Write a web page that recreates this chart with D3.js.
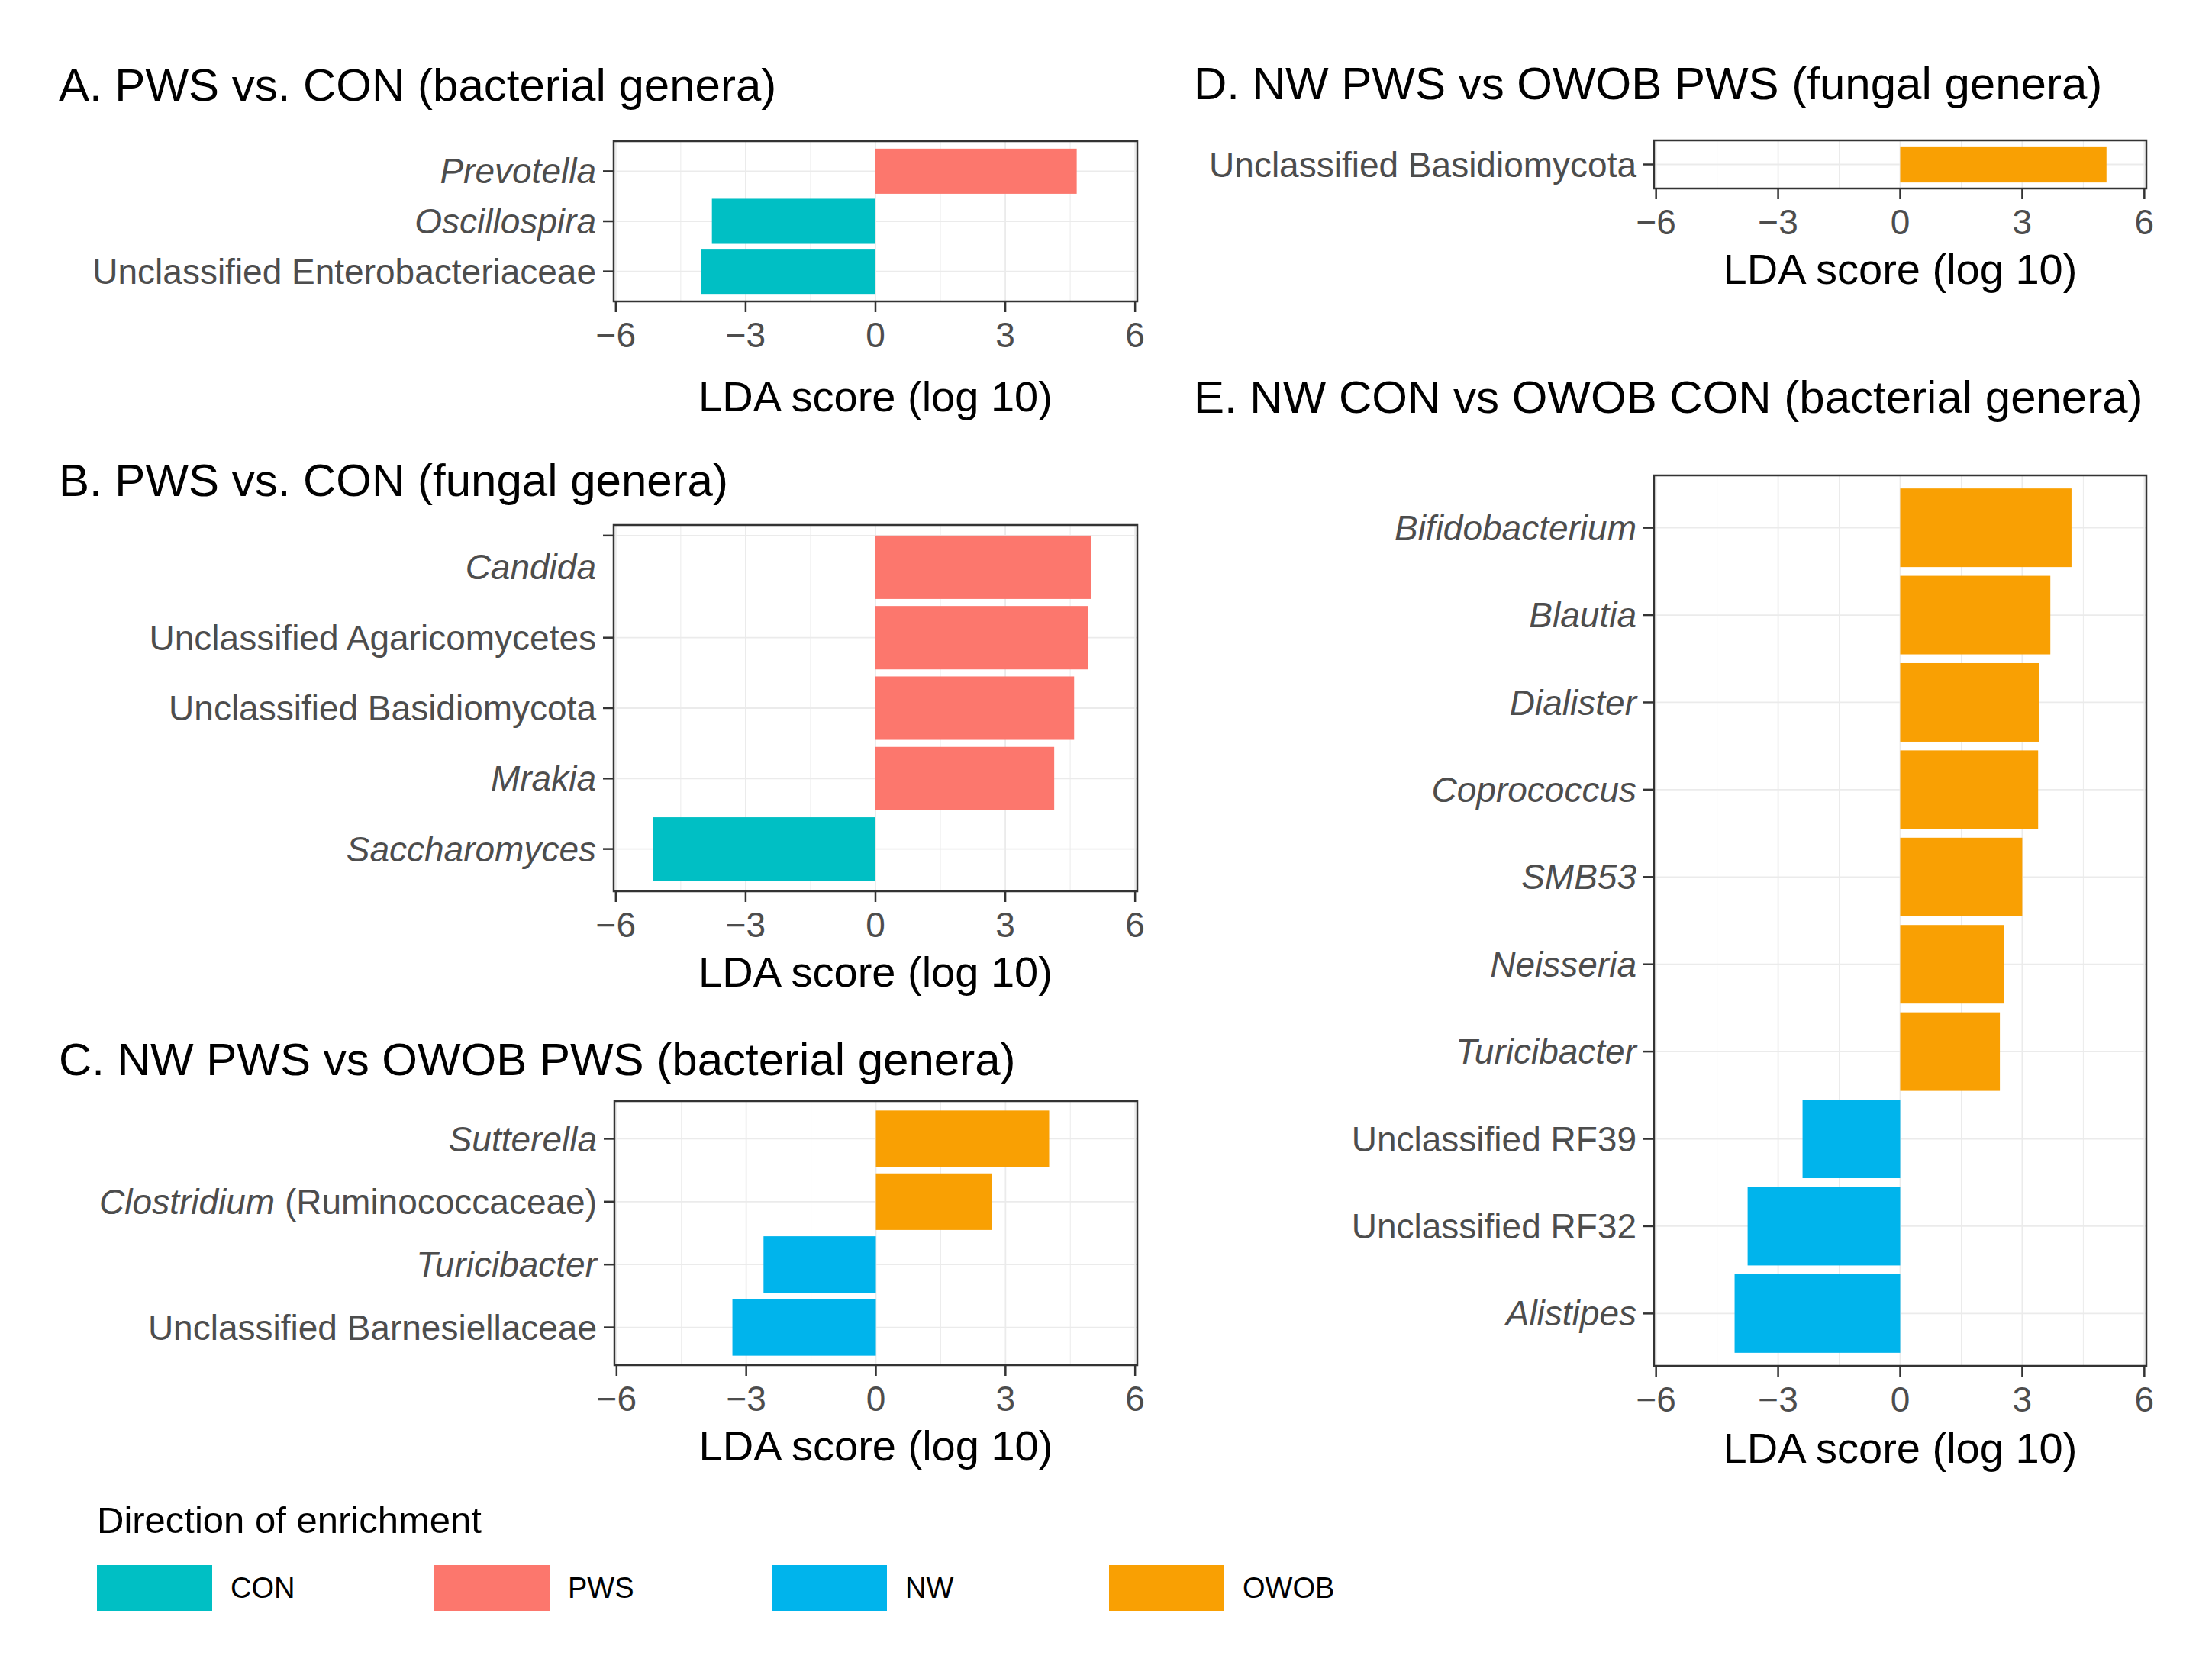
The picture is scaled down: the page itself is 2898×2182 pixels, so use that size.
<!DOCTYPE html>
<html>
<head>
<meta charset="utf-8">
<script src="https://cdn.jsdelivr.net/npm/d3@7"></script>
<style>
  body { margin: 0; background: #ffffff; }
  svg { display: block; }
</style>
</head>
<body>
<script>
// LDA scores, top row to bottom row in each panel

// A. PWS vs. CON (bacterial genera)
const generaA = ["Prevotella", "Oscillospira", "Unclassified Enterobacteriaceae"];
const scoresA = [4.65, -3.78, -4.03];
const groupsA = ["PWS", "CON", "CON"];

// B. PWS vs. CON (fungal genera)
const generaB = ["Candida", "Unclassified Agaricomycetes", "Unclassified Basidiomycota", "Mrakia", "Saccharomyces"];
const scoresB = [4.98, 4.91, 4.59, 4.13, -5.14];
const groupsB = ["PWS", "PWS", "PWS", "PWS", "CON"];

// C. NW PWS vs OWOB PWS (bacterial genera)
const generaC = ["Sutterella", "Clostridium (Ruminococcaceae)", "Turicibacter", "Unclassified Barnesiellaceae"];
const scoresC = [4.01, 2.68, -2.6, -3.32];
const groupsC = ["OWOB", "OWOB", "NW", "NW"];

// D. NW PWS vs OWOB PWS (fungal genera)
const generaD = ["Unclassified Basidiomycota"];
const scoresD = [5.07];
const groupsD = ["OWOB"];

// E. NW CON vs OWOB CON (bacterial genera)
const generaE = ["Bifidobacterium", "Blautia", "Dialister", "Coprococcus", "SMB53", "Neisseria",
  "Turicibacter", "Unclassified RF39", "Unclassified RF32", "Alistipes"];
const scoresE = [4.21, 3.69, 3.42, 3.39, 3.0, 2.55, 2.45, -2.4, -3.75, -4.07];
const groupsE = ["OWOB", "OWOB", "OWOB", "OWOB", "OWOB", "OWOB", "OWOB", "NW", "NW", "NW"];

const xTicks = [-6, -3, 0, 3, 6];
const xMinor = [-4.5, -1.5, 1.5, 4.5];

const groupNames = ["CON", "PWS", "NW", "OWOB"];
const groupColors = ["#00BFC4", "#FC776D", "#00B4EC", "#F9A003"];
const color = d3.scaleOrdinal().domain(groupNames).range(groupColors);

const W = 2898;
const H = 2182;
const FONT = "'Liberation Sans', Arial, Helvetica, sans-serif";

const svg = d3.select("body").append("svg").attr("width", W).attr("height", H);
svg.append("rect").attr("width", W).attr("height", H).attr("fill", "#ffffff");

// one ggplot-ish panel (theme_bw)
function drawPanel(p) {
  const g = svg.append("g");
  const x = d3.scaleLinear().domain([-6.05, 6.05]).range([p.x0, p.x1]);
  const y = d3.scaleBand().domain(p.genera).range([p.y0, p.y1])
    .paddingInner(0.1).paddingOuter(0.15);

  // where the tick / gridline sits for each row
  const rowY = (d, i) => (p.firstTickAtTop && i === 0) ? y(d) : y(d) + y.bandwidth() / 2;

  // title
  g.append("text")
    .attr("x", p.tx).attr("y", p.ty)
    .attr("font-family", FONT).attr("font-size", 60)
    .attr("fill", "#000000")
    .text(p.title);

  // grid
  g.selectAll(".minor").data(xMinor).enter().append("line")
    .attr("x1", d => x(d)).attr("x2", d => x(d))
    .attr("y1", p.y0).attr("y2", p.y1)
    .attr("stroke", "#EBEBEB").attr("stroke-width", 1);
  g.selectAll(".vmajor").data(xTicks).enter().append("line")
    .attr("x1", d => x(d)).attr("x2", d => x(d))
    .attr("y1", p.y0).attr("y2", p.y1)
    .attr("stroke", "#EBEBEB").attr("stroke-width", 1.8);
  g.selectAll(".hmajor").data(p.genera).enter().append("line")
    .attr("x1", p.x0).attr("x2", p.x1)
    .attr("y1", rowY).attr("y2", rowY)
    .attr("stroke", "#EBEBEB").attr("stroke-width", 1.8);

  // bars
  g.selectAll(".bar").data(p.genera).enter().append("rect")
    .attr("x", (d, i) => Math.min(x(0), x(p.scores[i])))
    .attr("y", d => y(d))
    .attr("width", (d, i) => Math.abs(x(p.scores[i]) - x(0)))
    .attr("height", y.bandwidth())
    .attr("fill", (d, i) => color(p.groups[i]));

  // border
  g.append("rect")
    .attr("x", p.x0).attr("y", p.y0)
    .attr("width", p.x1 - p.x0).attr("height", p.y1 - p.y0)
    .attr("fill", "none").attr("stroke", "#333333").attr("stroke-width", 2.5);

  // x axis
  g.selectAll(".xtick").data(xTicks).enter().append("line")
    .attr("x1", d => x(d)).attr("x2", d => x(d))
    .attr("y1", p.y1).attr("y2", p.y1 + 14)
    .attr("stroke", "#333333").attr("stroke-width", 2.5);
  g.selectAll(".xlab").data(xTicks).enter().append("text")
    .attr("x", d => x(d)).attr("y", p.y1 + 60)
    .attr("text-anchor", "middle")
    .attr("font-family", FONT).attr("font-size", 46)
    .attr("fill", "#4D4D4D")
    .text(d => d < 0 ? "\u2212" + Math.abs(d) : d);
  g.append("text")
    .attr("x", (p.x0 + p.x1) / 2).attr("y", p.y1 + p.axisGap)
    .attr("text-anchor", "middle")
    .attr("font-family", FONT).attr("font-size", 56)
    .attr("fill", "#000000")
    .text("LDA score (log 10)");

  // y axis
  g.selectAll(".ytick").data(p.genera).enter().append("line")
    .attr("x1", p.x0 - 14).attr("x2", p.x0)
    .attr("y1", rowY).attr("y2", rowY)
    .attr("stroke", "#333333").attr("stroke-width", 2.5);

  const labels = g.selectAll(".ylab").data(p.genera).enter().append("text")
    .attr("x", p.x0 - 23)
    .attr("y", d => y(d) + y.bandwidth() / 2)
    .attr("dy", "0.35em")
    .attr("text-anchor", "end")
    .attr("font-family", FONT).attr("font-size", 46)
    .attr("fill", "#4D4D4D");

  // genus names in italics, "Unclassified ..." in roman
  labels.each(function (d) {
    const t = d3.select(this);
    if (d.startsWith("Unclassified")) {
      t.text(d);
      return;
    }
    const cut = d.indexOf(" ");
    const genus = cut < 0 ? d : d.slice(0, cut);
    t.append("tspan").attr("font-style", "italic").text(genus);
    if (cut >= 0) t.append("tspan").text(d.slice(cut));
  });
}

drawPanel({
  title: "A. PWS vs. CON (bacterial genera)", tx: 77, ty: 132,
  genera: generaA, scores: scoresA, groups: groupsA,
  x0: 804, x1: 1490, y0: 185, y1: 395, axisGap: 144
});

drawPanel({
  title: "B. PWS vs. CON (fungal genera)", tx: 77, ty: 650,
  genera: generaB, scores: scoresB, groups: groupsB,
  x0: 804, x1: 1490, y0: 688, y1: 1168, axisGap: 125,
  firstTickAtTop: true
});

drawPanel({
  title: "C. NW PWS vs OWOB PWS (bacterial genera)", tx: 77, ty: 1409,
  genera: generaC, scores: scoresC, groups: groupsC,
  x0: 805, x1: 1490, y0: 1443, y1: 1789, axisGap: 125
});

drawPanel({
  title: "D. NW PWS vs OWOB PWS (fungal genera)", tx: 1564, ty: 130,
  genera: generaD, scores: scoresD, groups: groupsD,
  x0: 2167, x1: 2812, y0: 184, y1: 247, axisGap: 125
});

drawPanel({
  title: "E. NW CON vs OWOB CON (bacterial genera)", tx: 1564, ty: 541,
  genera: generaE, scores: scoresE, groups: groupsE,
  x0: 2167, x1: 2812, y0: 623, y1: 1790, axisGap: 127
});

// Legend
const legend = svg.append("g");
legend.append("text")
  .attr("x", 127).attr("y", 2009)
  .attr("font-family", FONT).attr("font-size", 49)
  .attr("fill", "#000000")
  .text("Direction of enrichment");

const keyX = d3.scalePoint().domain(groupNames).range([127, 127 + 442 * 3]);

legend.selectAll(".key").data(groupNames).enter().append("rect")
  .attr("x", d => keyX(d)).attr("y", 2051)
  .attr("width", 151).attr("height", 60)
  .attr("fill", d => color(d));

legend.selectAll(".keylab").data(groupNames).enter().append("text")
  .attr("x", d => keyX(d) + 175).attr("y", 2081)
  .attr("dy", "0.35em")
  .attr("font-family", FONT).attr("font-size", 38)
  .attr("fill", "#000000")
  .text(d => d);
</script>
</body>
</html>
